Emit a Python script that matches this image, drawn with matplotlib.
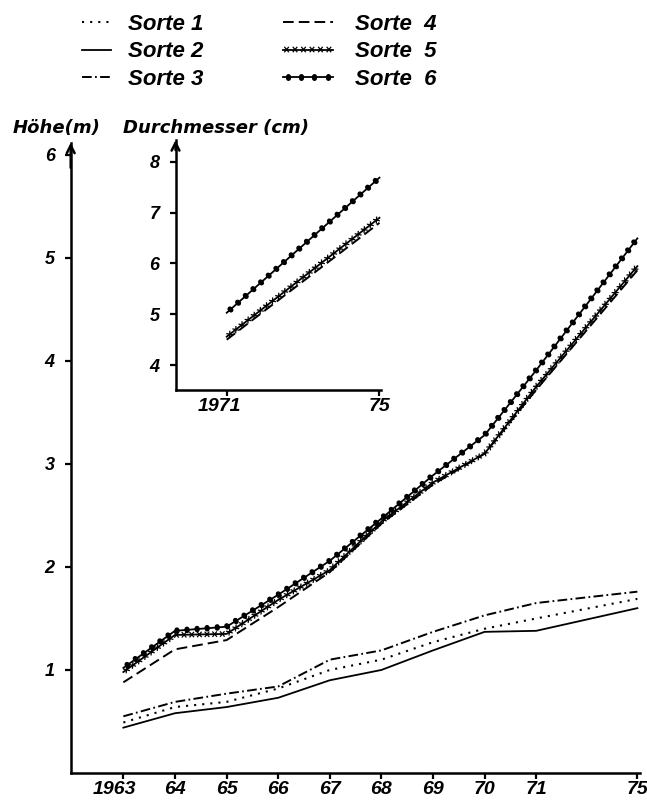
import numpy as np
import matplotlib
matplotlib.use("Agg")
import matplotlib.pyplot as plt
from matplotlib import patheffects as pe
from matplotlib.transforms import ScaledTranslation

# ---------------- data ----------------
years = [1963, 1964, 1965, 1966, 1967, 1968, 1969, 1970, 1971, 1975]
year_labels = ["1963", "64", "65", "66", "67", "68", "69", "70", "71", "75"]
sorte1 = [0.49, 0.64, 0.69, 0.82, 1.00, 1.10, 1.27, 1.40, 1.50, 1.69]
sorte2 = [0.44, 0.58, 0.64, 0.73, 0.90, 1.00, 1.19, 1.37, 1.38, 1.60]
sorte3 = [0.55, 0.69, 0.77, 0.84, 1.10, 1.19, 1.37, 1.53, 1.65, 1.76]
sorte4 = [0.88, 1.20, 1.29, 1.61, 1.95, 2.42, 2.80, 3.10, 3.72, 4.88]
sorte5 = [0.98, 1.34, 1.35, 1.68, 1.97, 2.44, 2.82, 3.10, 3.75, 4.92]
sorte6 = [1.02, 1.38, 1.42, 1.73, 2.06, 2.47, 2.89, 3.28, 3.91, 5.19]
height_ticks = [1, 2, 3, 4, 5, 6]

inset_years = [1971, 1975]
inset_labels = ["1971", "75"]
diam4 = [4.50, 6.80]
diam5 = [4.56, 6.90]
diam6 = [5.03, 7.69]
diam_ticks = [4, 5, 6, 7, 8]

labels = ["Sorte 1", "Sorte 2", "Sorte 3", "Sorte  4", "Sorte  5", "Sorte  6"]

# ---------------- style ----------------
FAM = ["Liberation Sans", "DejaVu Sans"]
plt.rcParams["font.family"] = FAM

K = "black"
LW = 1.3

def fwd(x):
    x = np.asarray(x, dtype=float)
    return np.where(x <= 1971, x, 1971 + (x - 1971) * 0.49)

def inv(y):
    y = np.asarray(y, dtype=float)
    return np.where(y <= 1971, y, 1971 + (y - 1971) / 0.49)

def x_effects(spacing=5.5, length=0.38, lw=0.9):
    return [pe.TickedStroke(spacing=spacing, angle=a, length=length, linewidth=lw)
            for a in (50, -130, 130, -50)] + [pe.Normal()]

def dot_effects(spacing=7.2, length=0.08, lw=3.6):
    return [pe.TickedStroke(spacing=spacing, angle=a, length=length,
                            linewidth=lw, capstyle="round")
            for a in (90, -90)] + [pe.Normal()]

style1 = dict(color=K, lw=1.5, linestyle=(0, (1, 2.9)))
style2 = dict(color=K, lw=LW, linestyle="-")
style3 = dict(color=K, lw=1.4, linestyle=(0, (5.0, 1.7, 0.9, 1.7)))
style4 = dict(color=K, lw=1.4, linestyle=(0, (5.5, 2.6)))
style5 = dict(color=K, lw=LW, linestyle="-", path_effects=x_effects())
style6 = dict(color=K, lw=LW, linestyle="-", path_effects=dot_effects())

fig = plt.figure(figsize=(6.47, 8.02), dpi=100)

# ---------------- main axes ----------------
ax = fig.add_axes([0.1093, 0.0362, 0.8797, 0.786])
ax.set_xscale("function", functions=(fwd, inv))
ax.set_xlim(1961.98, 1975.1)
ax.set_ylim(0, 6.12)

h1, = ax.plot(years, sorte1, **style1)
h2, = ax.plot(years, sorte2, **style2)
h3, = ax.plot(years, sorte3, **style3)
h4, = ax.plot(years, sorte4, **style4)
h5, = ax.plot(years, sorte5, **style5)
h6, = ax.plot(years, sorte6, **style6)

def style_axes(a, xsize, ysize):
    for s in ("top", "right"):
        a.spines[s].set_visible(False)
    for s in ("left", "bottom"):
        a.spines[s].set_linewidth(1.8)
    a.tick_params(axis="x", direction="out", length=4, width=1.6, pad=1.5,
                  labelsize=xsize)
    a.tick_params(axis="y", direction="out", length=4, width=1.6, pad=7.5,
                  labelsize=ysize)
    for lab in a.get_xticklabels() + a.get_yticklabels():
        lab.set_fontweight("bold")
        lab.set_fontstyle("italic")
    a.annotate("", xy=(0, 1.0), xytext=(0, 0.96), xycoords="axes fraction",
               arrowprops=dict(arrowstyle="->", lw=1.8, color=K, mutation_scale=14,
                               shrinkA=0, shrinkB=0))

def shift_first_xlabel(a, dx_px):
    lab = a.get_xticklabels()[0]
    lab.set_transform(lab.get_transform() +
                      ScaledTranslation(dx_px / 100.0, 0, fig.dpi_scale_trans))

ax.set_xticks(years)
ax.set_xticklabels(year_labels)
ax.set_yticks(height_ticks)
ax.set_yticklabels([str(t) for t in height_ticks])
ax.minorticks_off()
style_axes(ax, 14, 13)
shift_first_xlabel(ax, -9)

fig.text(0.02, 0.841, "Höhe(m)", fontsize=13, family=["DejaVu Sans"],
         weight="bold", style="italic", va="center", ha="left")

# ---------------- inset ----------------
axi = fig.add_axes([0.2713, 0.5137, 0.3176, 0.3117])
axi.patch.set_alpha(0)
axi.set_xlim(1969.66, 1975.04)
axi.set_ylim(3.51, 8.43)
axi.plot(inset_years, diam4, **style4)
axi.plot(inset_years, diam5, **style5)
axi.plot(inset_years, diam6, **style6)
axi.set_xticks(inset_years)
axi.set_xticklabels(inset_labels)
axi.set_yticks(diam_ticks)
axi.set_yticklabels([str(t) for t in diam_ticks])
style_axes(axi, 14, 13)
shift_first_xlabel(axi, -7)

fig.text(0.19, 0.841, "Durchmesser (cm)", fontsize=13,
         family=["DejaVu Sans"], weight="bold", style="italic",
         va="center", ha="left")

# ---------------- legends ----------------
leg_font = dict(size=16, weight="bold", style="italic", family=FAM)
leg1 = fig.legend([h1, h2, h3], labels[:3], loc="upper left",
                  bbox_to_anchor=(0.127, 0.983), frameon=False, prop=leg_font,
                  handlelength=1.3, handletextpad=0.75, labelspacing=0.3,
                  borderaxespad=0, borderpad=0)
leg2 = fig.legend([h4, h5, h6], labels[3:], loc="upper left",
                  bbox_to_anchor=(0.437, 0.983), frameon=False, prop=leg_font,
                  handlelength=2.25, handletextpad=1.0, labelspacing=0.3,
                  borderaxespad=0, borderpad=0)

fig.savefig("out.png", dpi=100)
